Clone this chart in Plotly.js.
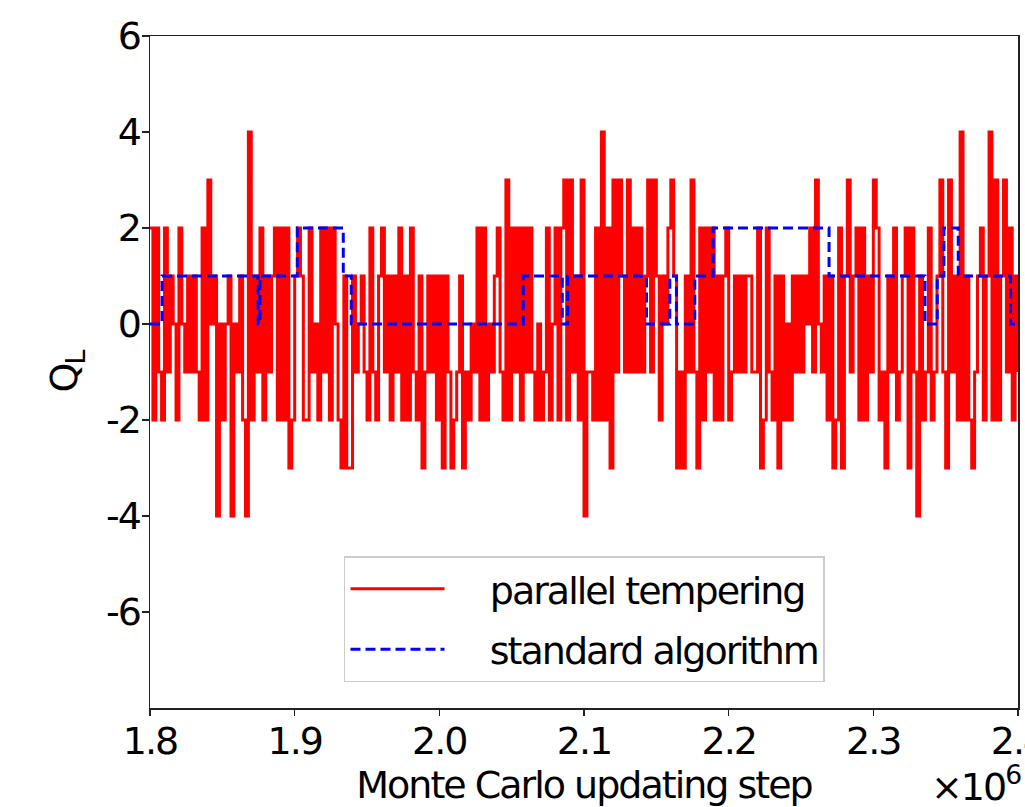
<!DOCTYPE html>
<html>
<head>
<meta charset="utf-8">
<script src="https://cdn.plot.ly/plotly-3.0.1.min.js"></script>
<style>
  html, body { margin: 0; padding: 0; background: #ffffff; }
  #chart { width: 1025px; height: 807px; }
  svg text { letter-spacing: -2px; }
</style>
</head>
<body>
<div id="chart"></div>
<script>
// Parallel tempering: topological charge Q_L sampled every stepSize MC steps
const stepStart = 1800000;
const stepSize = 2000;
const qParallel = [
  2,-2,2,-1,-2,2,-1,1,0,-2,
  2,0,-1,1,-1,1,-1,-2,2,-2,
  3,0,1,-4,0,-2,0,1,-4,0,
  -1,1,-2,-4,4,-2,1,-1,2,-2,
  1,-1,1,2,-2,2,-2,2,-3,-2,
  1,2,
  1,-2,-2,2,-1,0,-2,2,-1,2,
  -2,2,0,-2,-3,1,-3,-3,1,-1,
  0,1,-1,-2,2,-1,-2,1,2,-1,
  1,-2,1,-1,2,-2,1,-2,2,-1,
  -2,1,-3,-1,1,-1,1,-2,1,-3,
  1,-1,-3,-2,-1,1,-3,-1,-2,0,
  -1,2,-2,2,-2,0,-1,1,2,-1,
  -2,3,-2,2,-1,2,-2,2,-1,2,
  -1,-2,0,-2,-1,2,-2,0,2,-2,
  2,3,-2,3,-1,1,-2,3,-4,-1,
  -1,-2,2,-2,4,-2,2,-3,3,-1,
  3,1,-1,3,-1,2,-1,2,-1,1,
  3,-1,3,1,-2,1,0,2,3,1,
  -3,-1,-3,1,-1,3,-1,-3,2,-2,
  2,-1,2,-2,1,-2,1,2,-2,-1,
  1,-1,1,-1,1,1,-1,-1,2,-3,
  -2,2,-1,-2,1,-3,1,-2,0,-2,
  1,-1,1,-1,1,0,2,-1,3,0,
  -1,1,-2,1,-3,-2,2,-3,1,3,
  -1,1,2,-2,2,-2,1,-1,3,2,
  -2,-1,-3,1,-1,2,-2,-1,1,2,
  -3,2,-1,-4,1,-2,-1,2,-2,-1,
  1,3,-1,-3,3,-1,1,-2,4,-2,
  1,-2,-3,-1,1,2,-2,1,4,-2,
  3,-2,1,3,-1,2,-2,1,-1
];
const stepsParallel = qParallel.map((_, i) => stepStart + i * stepSize);

// Standard algorithm: Q_L changes only at these steps (step function)
const stepsStandard = [1800000, 1808300, 1874700, 1876000, 1901800, 1933600, 1939100,
  2058000, 2085000, 2088700, 2143200, 2159300, 2163900, 2176600, 2189300,
  2269400, 2335700, 2344200, 2348800, 2358700, 2394900, 2400000];
const qStandard = [0, 1, 0, 1, 2, 1, 0,
  1, 0, 1, 0, 1, 0, 1, 2,
  1, 0, 1, 2, 1, 0, 0];

const xTickVals = [1800000, 1900000, 2000000, 2100000, 2200000, 2300000, 2400000];
const xTickText = ['1.8', '1.9', '2.0', '2.1', '2.2', '2.3', '2.4'];
const yTickVals = [-6, -4, -2, 0, 2, 4, 6];
const yTickText = ['-6', '-4', '-2', '0', '2', '4', '6'];
const legendNames = ['\u00a0\u00a0\u00a0\u00a0parallel tempering', '\u00a0\u00a0\u00a0\u00a0standard algorithm'];

const FONT = 'DejaVu Sans, Verdana, sans-serif';

const traces = [
  {
    x: stepsParallel, y: qParallel, type: 'scatter', mode: 'lines',
    name: legendNames[0], legendgroup: 'a',
    line: { color: '#ff0000', width: 3, shape: 'hv' }
  },
  {
    x: stepsStandard, y: qStandard, type: 'scatter', mode: 'lines',
    name: legendNames[1], legendgroup: 'b',
    line: { color: '#0000ff', width: 3, dash: '10px,5px', shape: 'hv' }
  }
];

const layout = {
  width: 1025, height: 807,
  margin: { l: 150, r: 7, t: 36, b: 99, pad: 0 },
  paper_bgcolor: '#ffffff', plot_bgcolor: '#ffffff',
  font: { family: FONT, size: 38, color: '#000000' },
  showlegend: true,
  xaxis: {
    range: [1800000, 2400000],
    tickmode: 'array', tickvals: xTickVals, ticktext: xTickText,
    ticks: 'outside', ticklen: 6, tickwidth: 1.5, tickcolor: '#222222',
    ticklabelstandoff: -7, ticklabeloverflow: 'allow',
    showline: true, mirror: true, linecolor: '#222222', linewidth: 1.5,
    showgrid: false, zeroline: false,
    tickfont: { family: FONT, size: 38, color: '#000000' },
    title: { text: 'Monte Carlo updating step', font: { family: FONT, size: 38, color: '#000000' }, standoff: 5 }
  },
  yaxis: {
    range: [-8, 6],
    tickmode: 'array', tickvals: yTickVals, ticktext: yTickText,
    ticks: 'outside', ticklen: 7, tickwidth: 1.5, tickcolor: '#222222',
    ticklabelstandoff: -6,
    showline: true, mirror: true, linecolor: '#222222', linewidth: 1.5,
    showgrid: false, zeroline: false,
    tickfont: { family: FONT, size: 38, color: '#000000' },
    title: { text: 'Q<sub>L</sub>', font: { family: FONT, size: 38, color: '#000000' }, standoff: 16 }
  },
  legend: {
    x: 0.2235, y: 0.226, xanchor: 'left', yanchor: 'top',
    bgcolor: 'rgba(255,255,255,0.85)', bordercolor: '#cccccc', borderwidth: 1.5,
    font: { family: FONT, size: 38, color: '#000000' },
    itemwidth: 94, tracegroupgap: 8, traceorder: 'grouped'
  },
  annotations: [
    {
      xref: 'paper', yref: 'paper', x: 1, y: 0, xanchor: 'right', yanchor: 'top',
      xshift: 5, yshift: -49, showarrow: false,
      text: '×10<sup>6</sup>',
      font: { family: FONT, size: 38, color: '#000000' }
    }
  ]
};

Plotly.newPlot('chart', traces, layout, { displayModeBar: false, staticPlot: true });
</script>
</body>
</html>
